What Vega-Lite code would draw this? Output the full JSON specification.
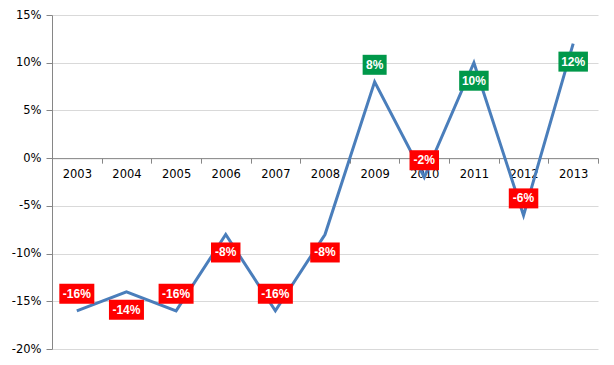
{
  "$schema": "https://vega.github.io/schema/vega-lite/v6.json",
  "width": 546,
  "height": 334,
  "autosize": {"type": "none"},
  "padding": {"left": 52, "top": 15, "right": 16, "bottom": 16},
  "background": "white",
  "config": {
    "view": {"stroke": null},
    "font": "DejaVu Sans",
    "locale": {
      "number": {
        "decimal": ".",
        "thousands": ",",
        "grouping": [3],
        "currency": ["$", ""],
        "minus": "-"
      }
    }
  },
  "data": {
    "values": [
      {"year": "2003", "change": -0.16, "side": "above"},
      {"year": "2004", "change": -0.14, "side": "below"},
      {"year": "2005", "change": -0.16, "side": "above"},
      {"year": "2006", "change": -0.08, "side": "below"},
      {"year": "2007", "change": -0.16, "side": "above"},
      {"year": "2008", "change": -0.08, "side": "below"},
      {"year": "2009", "change": 0.08, "side": "above"},
      {"year": "2010", "change": -0.02, "side": "above"},
      {"year": "2011", "change": 0.10, "side": "below"},
      {"year": "2012", "change": -0.06, "side": "above"},
      {"year": "2013", "change": 0.12, "side": "below"}
    ]
  },
  "encoding": {
    "x": {
      "field": "year",
      "type": "ordinal",
      "scale": {"type": "band", "paddingInner": 0, "paddingOuter": 0},
      "axis": {
        "title": null,
        "orient": "bottom",
        "offset": -190.857,
        "tickBand": "extent",
        "tickSize": 5,
        "labelPadding": 5,
        "labelAngle": 0,
        "labelFontSize": 11.5,
        "labelColor": "#000000",
        "domainColor": "#868686",
        "tickColor": "#868686",
        "grid": false
      }
    },
    "y": {
      "field": "change",
      "type": "quantitative",
      "scale": {"domain": [-0.2, 0.15], "nice": false, "zero": false},
      "axis": {
        "title": null,
        "values": [-0.2, -0.15, -0.1, -0.05, 0, 0.05, 0.1, 0.15],
        "format": ".0%",
        "tickSize": 6,
        "labelPadding": 5,
        "labelFontSize": 11.5,
        "labelColor": "#000000",
        "domainColor": "#868686",
        "tickColor": "#868686",
        "gridColor": "#d9d9d9",
        "grid": true
      }
    }
  },
  "layer": [
    {"mark": {"type": "line", "color": "#4a7ebb", "strokeWidth": 3}},
    {
      "mark": {
        "type": "rect",
        "height": 20,
        "width": {"expr": "5.5*length(format(datum.change,'.0%'))+13"},
        "yOffset": {"expr": "datum.side == 'above' ? -17 : 18"}
      },
      "encoding": {
        "color": {
          "condition": {"test": "datum.change < 0", "value": "#ff0000"},
          "value": "#00984a"
        }
      }
    },
    {
      "mark": {
        "type": "text",
        "font": "Liberation Sans",
        "fontWeight": "bold",
        "fontSize": 12,
        "color": "white",
        "baseline": "middle",
        "align": "center",
        "yOffset": {"expr": "datum.side == 'above' ? -17 : 18"}
      },
      "encoding": {"text": {"field": "change", "format": ".0%"}}
    }
  ]
}
